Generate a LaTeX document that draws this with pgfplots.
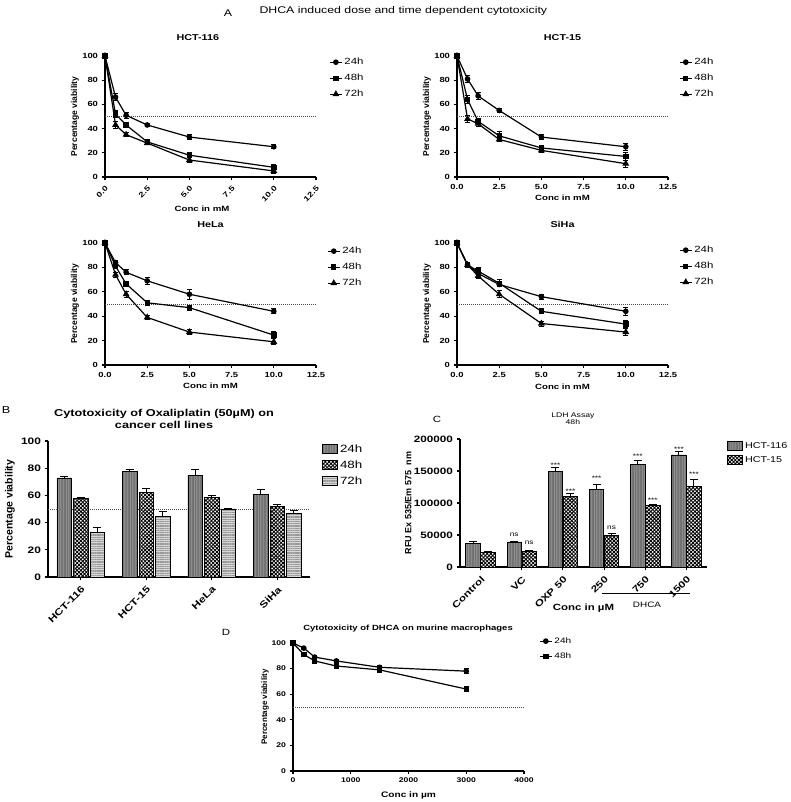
\documentclass[border=0pt]{standalone}
\usepackage{fontspec}
\setmainfont{Liberation Sans}[FakeStretch=1.27]
\newfontfamily\vfont{Liberation Sans}
\usepackage{pgfplots}
\pgfplotsset{compat=1.18}
\usetikzlibrary{patterns.meta}

\definecolor{g24}{RGB}{140,140,140}
\definecolor{g72}{RGB}{215,215,215}

\newcommand\fs[2][]{\fontsize{#2}{#2}\selectfont}

\pgfplotsset{
  gp/.style={
    scale only axis, anchor=south west, clip=false,
    axis lines=left, axis line style={-, line width=1.3pt},
    tick align=outside, major tick length=3.5pt,
    every tick/.style={black, line width=1.1pt},
    enlargelimits=false,
    /pgf/number format/assume math mode=true,
    title style={anchor=center, yshift=-7pt},
    xlabel style={anchor=center},
    ylabel style={anchor=center},
    legend style={draw=none, fill=none, anchor=north west, legend cell align=left, inner sep=0pt},
  },
  lineA/.style={gp, width=211pt, height=121pt,
    xmin=0, xmax=12.5, ymin=0, ymax=100,
    xtick={0,2.5,5,7.5,10,12.5}, ytick={0,20,40,60,80,100},
    xticklabel style={/pgf/number format/fixed, /pgf/number format/fixed zerofill, /pgf/number format/precision=1},
    ticklabel style={font=\fs{7.4}\bfseries},
    xlabel={Conc in mM}, ylabel={Percentage viability},
    xlabel style={font=\fs{7.6}\bfseries},
    ylabel style={font=\vfont\fs{8.5}\bfseries, at={(axis description cs:-0.142,0.5)}},
    title style={font=\fs{8.5}\bfseries},
    legend style={font=\fs{9}, row sep=4pt},
    legend image code/.code={\draw[mark repeat=2, mark phase=2, #1] plot coordinates {(0pt,0pt) (6pt,0pt) (12pt,0pt)};},
  },
  dotline/.style={forget plot, gray!60!black, line width=0.8pt, dash pattern=on 1pt off 1pt},
  ser/.style={black, line width=1.2pt, mark options={solid, fill=black},
    error bars/y dir=both, error bars/y explicit,
    error bars/error bar style={line width=0.9pt, solid},
    error bars/error mark options={rotate=90, mark size=2.6pt, line width=0.9pt}},
  s24/.style={ser, mark=*, mark size=2.2pt},
  s48/.style={ser, mark=square*, mark size=2.1pt},
  s72/.style={ser, mark=triangle*, mark size=2.8pt},
  bars/.style={ybar, bar shift=0pt, draw=black, line width=0.8pt,
    error bars/y dir=plus, error bars/y explicit,
    error bars/error bar style={line width=1pt},
    error bars/error mark options={rotate=90, mark size=4pt, line width=1pt}},
  f24/.style={fill=g24,
    postaction={pattern={Lines[angle=90,distance=1.6pt,line width=0.4pt]}, pattern color=black!55}},
  f48/.style={fill=white,
    postaction={pattern={Hatch[angle=45,distance=2.6pt,line width=0.9pt]}, pattern color=black}},
  f72/.style={fill=g72,
    postaction={pattern={Lines[angle=0,distance=1.8pt,line width=0.4pt]}, pattern color=black!40}},
}

\begin{document}
\begin{tikzpicture}
\useasboundingbox (0pt,0pt) rectangle (790pt,802pt);

\node[font=\fs{9.7}] at (228pt,789pt) {A};
\node[font=\fs{9.7}, anchor=west] at (256pt,791pt) {DHCA induced dose and time dependent cytotoxicity};

% ---------------- HCT-116
\begin{axis}[lineA, at={(105pt,625pt)}, title={HCT-116},
  title style={at={(axis description cs:0.44,1.157)}},
  xticklabel style={rotate=45, anchor=north east},
  xlabel style={at={(axis description cs:0.46,-0.264)}},
  legend style={at={(axis description cs:1.062,1.0)}}]
\addplot[dotline] coordinates {(0,50) (12.5,50)};
\addplot[s24] table[x=x, y=y, y error=e] {
x y e
0 100 1
0.625 66 3
1.25 51 2.5
2.5 43 1.5
5 33 2
10 25 1.5
};
\addplot[s48] table[x=x, y=y, y error=e] {
x y e
0 100 1
0.625 52 3
1.25 43 1.5
2.5 29 2
5 18 2
10 8 2
};
\addplot[s72] table[x=x, y=y, y error=e] {
x y e
0 100 1
0.625 43 3
1.25 35 1.5
2.5 28 1.5
5 14 2
10 5 2
};
\legend{24h,48h,72h}
\end{axis}

% ---------------- HCT-15
\begin{axis}[lineA, at={(457pt,625pt)}, title={HCT-15},
  title style={at={(axis description cs:0.5,1.157)}},
  xlabel style={at={(axis description cs:0.5,-0.174)}},
  legend style={at={(axis description cs:1.052,1.0)}}]
\addplot[dotline] coordinates {(0,50) (12.5,50)};
\addplot[s24] table[x=x, y=y, y error=e] {
x y e
0 100 1
0.625 81 3
1.25 67 3
2.5 55 2
5 33 2
10 25 3
};
\addplot[s48] table[x=x, y=y, y error=e] {
x y e
0 100 1
0.625 64 3
1.25 46 2
2.5 34 4
5 24 2
10 17 3
};
\addplot[s72] table[x=x, y=y, y error=e] {
x y e
0 100 1
0.625 48 3
1.25 44 2
2.5 31 2
5 22 2
10 11 3
};
\legend{24h,48h,72h}
\end{axis}

% ---------------- HeLa
\begin{axis}[lineA, at={(105pt,437pt)}, height=122pt, title={HeLa},
  title style={at={(axis description cs:0.5,1.156)}},
  xlabel style={at={(axis description cs:0.5,-0.172)}},
  legend style={at={(axis description cs:1.052,0.984)}}]
\addplot[dotline] coordinates {(0,50) (12.5,50)};
\addplot[s24] table[x=x, y=y, y error=e] {
x y e
0 100 1
0.625 84 2
1.25 76 2
2.5 69 3
5 58 4
10 44 2
};
\addplot[s48] table[x=x, y=y, y error=e] {
x y e
0 100 1
0.625 81 2
1.25 66.5 2
2.5 51 2
5 47 2
10 24.5 3
};
\addplot[s72] table[x=x, y=y, y error=e] {
x y e
0 100 1
0.625 74 2
1.25 58 2.5
2.5 39 2
5 27 2
10 19 2.5
};
\legend{24h,48h,72h}
\end{axis}

% ---------------- SiHa
\begin{axis}[lineA, at={(457pt,437pt)}, height=122pt, title={SiHa},
  title style={at={(axis description cs:0.5,1.156)}},
  xlabel style={at={(axis description cs:0.5,-0.18)}},
  legend style={at={(axis description cs:1.052,0.992)}}]
\addplot[dotline] coordinates {(0,50) (12.5,50)};
\addplot[s24] table[x=x, y=y, y error=e] {
x y e
0 100 1
0.625 82 2
1.25 75 2
2.5 66 2
5 56 2
10 44 3
};
\addplot[s48] table[x=x, y=y, y error=e] {
x y e
0 100 1
0.625 82 2
1.25 77 3
2.5 67 3
5 44 2
10 33.5 3
};
\addplot[s72] table[x=x, y=y, y error=e] {
x y e
0 100 1
0.625 82 2
1.25 73 2
2.5 58 3
5 34 2
10 27 3
};
\legend{24h,48h,72h}
\end{axis}

% ---------------- B  (group offsets: 16.5pt of 65.5pt per category)
\node[font=\fs{10}] at (6pt,392pt) {B};
\begin{axis}[gp, at={(48pt,225pt)}, width=262pt, height=136pt,
  xmin=-0.5, xmax=3.5, ymin=0, ymax=100,
  xtick={0,1,2,3}, xticklabels={HCT-116,HCT-15,HeLa,SiHa},
  ytick={0,20,40,60,80,100},
  ticklabel style={font=\fs{9.4}\bfseries},
  xticklabel style={rotate=45, anchor=north east},
  title={Cytotoxicity of Oxaliplatin (50µM) on\\cancer cell lines},
  title style={align=center, font=\fontsize{10}{11.5}\selectfont\bfseries, at={(axis description cs:0.443,1.169)}},
  ylabel={Percentage viability},
  ylabel style={font=\vfont\fs{10.5}\bfseries, at={(axis description cs:-0.145,0.5)}},
  legend style={font=\fs{10.5}, row sep=3pt, at={(axis description cs:1.046,0.99)}},
  legend image code/.code={\draw[#1] (0pt,-4pt) rectangle (15pt,5pt);}]
\addplot[dotline] coordinates {(-0.5,50) (3.5,50)};
\addplot[bars, f24, bar width=14.5pt] table[x expr=\thisrow{x}-0.252, y=y, y error=e] {
x y e
0 72.8 1
1 77.8 1.2
2 74.5 4.2
3 61 3.5
};
\addplot[bars, f48, bar width=14.5pt] table[x=x, y=y, y error=e] {
x y e
0 57.5 1
1 62.2 3.2
2 58.8 1
3 51.7 1.4
};
\addplot[bars, f72, bar width=14.5pt] table[x expr=\thisrow{x}+0.252, y=y, y error=e] {
x y e
0 33 3.5
1 44.5 3.5
2 50 0.6
3 47 1.8
};
\legend{24h,48h,72h}
\end{axis}

% ---------------- C  (pair offsets: 7.5pt of 41.2pt per category)
\node[font=\fs{9}] at (437pt,383pt) {C};
\begin{axis}[gp, at={(460pt,235pt)}, width=247pt, height=128pt,
  xmin=-0.5, xmax=5.5, ymin=0, ymax=200000,
  xtick={0,1,2,3,4,5}, xticklabels={Control,VC,OXP 50,250,750,1500},
  ytick={0,50000,100000,150000,200000}, scaled y ticks=false,
  yticklabel style={/pgf/number format/fixed, /pgf/number format/1000 sep={}},
  ticklabel style={font=\fs{9.2}\bfseries},
  xticklabel style={rotate=45, anchor=north east},
  title={LDH Assay\\48h},
  title style={align=center, font=\fontsize{6.8}{7.3}\selectfont, at={(axis description cs:0.457,1.164)}},
  xlabel={Conc in µM},
  xlabel style={font=\fs{9}\bfseries, at={(axis description cs:0.5,-0.32)}},
  ylabel={RFU Ex 535/Em 575~~nm},
  ylabel style={font=\vfont\fs{9}\bfseries, at={(axis description cs:-0.21,0.5)}},
  legend style={font=\fs{8.5}, row sep=3pt, at={(axis description cs:1.081,0.99)}},
  legend image code/.code={\draw[#1] (0pt,-4pt) rectangle (15pt,5pt);}]
\addplot[bars, f24, bar width=14.5pt] table[x expr=\thisrow{x}-0.182, y=y, y error=e] {
x y e
0 37400 2000
1 39000 1500
2 149000 6000
3 120500 9000
4 160000 6500
5 175000 5000
};
\addplot[bars, f48, bar width=14.5pt] table[x expr=\thisrow{x}+0.182, y=y, y error=e] {
x y e
0 22300 1500
1 24400 1500
2 110000 5000
3 48800 3000
4 95600 2000
5 125700 11000
};
\legend{HCT-116,HCT-15}
\node[font=\fs{6.5}] at (axis cs:0.818,50400) {ns};
\node[font=\fs{6.5}] at (axis cs:1.182,37400) {ns};
\node[font=\fs{6.5}] at (axis cs:1.818,159500) {***};
\node[font=\fs{6.5}] at (axis cs:2.182,119000) {***};
\node[font=\fs{6.5}] at (axis cs:2.818,138700) {***};
\node[font=\fs{6.5}] at (axis cs:3.182,60800) {ns};
\node[font=\fs{6.5}] at (axis cs:3.818,172500) {***};
\node[font=\fs{6.5}] at (axis cs:4.182,104000) {***};
\node[font=\fs{6.5}] at (axis cs:4.818,184000) {***};
\node[font=\fs{6.5}] at (axis cs:5.182,145000) {***};
\end{axis}
\draw[line width=1pt] (602pt,208pt) -- (690pt,208pt);
\node[font=\fs{7.8}] at (647pt,197pt) {DHCA};

% ---------------- D
\node[font=\fs{9}] at (226pt,170pt) {D};
\begin{axis}[gp, at={(293pt,31pt)}, width=231pt, height=128pt,
  xmin=0, xmax=4000, ymin=0, ymax=100,
  xtick={0,1000,2000,3000,4000}, ytick={0,20,40,60,80,100},
  xticklabel style={/pgf/number format/1000 sep={}},
  ticklabel style={font=\fs{6.8}\bfseries},
  title={Cytotoxicity of DHCA on murine macrophages},
  title style={font=\fs{7.5}\bfseries, at={(axis description cs:0.498,1.117)}},
  xlabel={Conc in µm},
  xlabel style={font=\fs{8}\bfseries, at={(axis description cs:0.5,-0.19)}},
  ylabel={Percentage viability},
  ylabel style={font=\vfont\fs{8}\bfseries, at={(axis description cs:-0.121,0.5)}},
  legend style={font=\fs{7.9}, row sep=4pt, at={(axis description cs:1.065,1.06)}},
  legend image code/.code={\draw[mark repeat=2, mark phase=2, #1] plot coordinates {(0pt,0pt) (6pt,0pt) (12pt,0pt)};}]
\addplot[dotline] coordinates {(0,50) (4000,50)};
\addplot[s24] table[x=x, y=y, y error=e] {
x y e
0 100 1
187.5 96 1
375 89 1
750 86 1
1500 81 1.5
3000 78 2
};
\addplot[s48] table[x=x, y=y, y error=e] {
x y e
0 100 1
187.5 91 1
375 86 1
750 82 1
1500 79 1.5
3000 64 2
};
\legend{24h,48h}
\end{axis}
\end{tikzpicture}
\end{document}
